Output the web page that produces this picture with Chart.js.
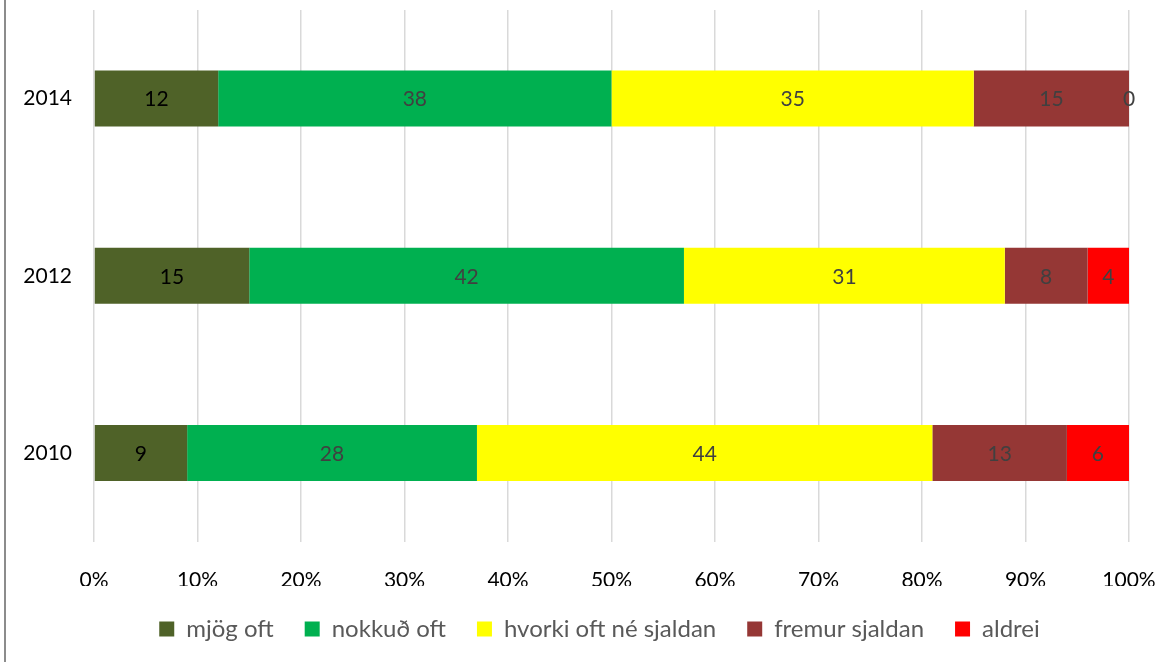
<!DOCTYPE html>
<html>
<head>
<meta charset="utf-8">
<script src="https://cdn.jsdelivr.net/npm/chart.js@4/dist/chart.umd.min.js"></script>
<style>
  html, body { margin: 0; padding: 0; background: #fff; }
  #wrap { position: relative; width: 1171px; height: 662px; }
  #wrap::before { content: ""; position: absolute; left: 4px; top: 0; width: 2px; height: 662px; background: #8c8c8c; }
  canvas { display: block; }
</style>
</head>
<body>
<div id="wrap"><canvas id="chart" width="1171" height="662"></canvas></div>
<script>
const years = ['2014', '2012', '2010'];
const seriesNames = ['mjög oft', 'nokkuð oft', 'hvorki oft né sjaldan', 'fremur sjaldan', 'aldrei'];
const mjogOft = [12, 15, 9];
const nokkudOft = [38, 42, 28];
const hvorki = [35, 31, 44];
const fremurSjaldan = [15, 8, 13];
const aldrei = [0, 4, 6];
const xTicks = [0, 10, 20, 30, 40, 50, 60, 70, 80, 90, 100];

const colors = ['#4f6228', '#00b050', '#ffff00', '#953735', '#ff0000'];
const labelColors = ['#000000', '#404040', '#404040', '#404040', '#404040'];
const FONT = 'Lato';

// value labels in the middle of each segment
const segmentLabels = {
  id: 'segmentLabels',
  afterDatasetsDraw(chart) {
    const ctx = chart.ctx;
    ctx.save();
    ctx.font = '21px ' + FONT;
    ctx.textAlign = 'center';
    ctx.textBaseline = 'middle';
    chart.data.datasets.forEach((ds, i) => {
      chart.getDatasetMeta(i).data.forEach((bar, j) => {
        const p = bar.getProps(['x', 'y', 'base'], true);
        ctx.fillStyle = labelColors[i];
        ctx.fillText(String(ds.data[j]), (p.x + p.base) / 2, p.y + 1);
      });
    });
    ctx.restore();
  }
};

// legend sits a little right of the canvas centre
const legendShift = {
  id: 'legendShift',
  afterLayout(chart) {
    chart.legend.left += 35;
    chart.legend.right += 35;
  }
};

const data = {
  labels: years,
  datasets: [mjogOft, nokkudOft, hvorki, fremurSjaldan, aldrei].map((vals, i) => ({
    label: seriesNames[i],
    data: vals,
    backgroundColor: colors[i],
    borderWidth: 0,
    barPercentage: 0.316,
    categoryPercentage: 1
  }))
};

const options = {
  indexAxis: 'y',
  responsive: false,
  animation: false,
  layout: { padding: { top: 10, right: 42, bottom: 11, left: 0 } },
  scales: {
    x: {
      stacked: true,
      min: 0,
      max: 100,
      afterBuildTicks: (axis) => { axis.ticks = xTicks.map(v => ({ value: v })); },
      afterFit: (axis) => {
        axis.height = 44.5;
        axis.paddingLeft = 0;
        axis.paddingRight = 0;
      },
      grid: { color: '#d9d9d9', lineWidth: 1.5, drawTicks: false },
      border: { display: false },
      ticks: {
        padding: 26,
        color: '#000',
        font: { family: FONT, size: 21 },
        callback: (v) => v + '%'
      }
    },
    y: {
      stacked: true,
      afterFit: (axis) => {
        axis.width = 94;
        axis.paddingTop = 0;
        axis.paddingBottom = 0;
      },
      grid: { display: false, drawTicks: false },
      border: { display: false },
      ticks: {
        padding: 22,
        color: '#000',
        font: { family: FONT, size: 21 }
      }
    }
  },
  plugins: {
    legend: {
      position: 'bottom',
      labels: {
        boxWidth: 15,
        boxHeight: 15,
        padding: 31,
        color: '#595959',
        font: { family: FONT, size: 24 }
      }
    },
    tooltip: { enabled: false }
  }
};

new Chart(document.getElementById('chart'), {
  type: 'bar',
  data: data,
  options: options,
  plugins: [segmentLabels, legendShift]
});
</script>
</body>
</html>
